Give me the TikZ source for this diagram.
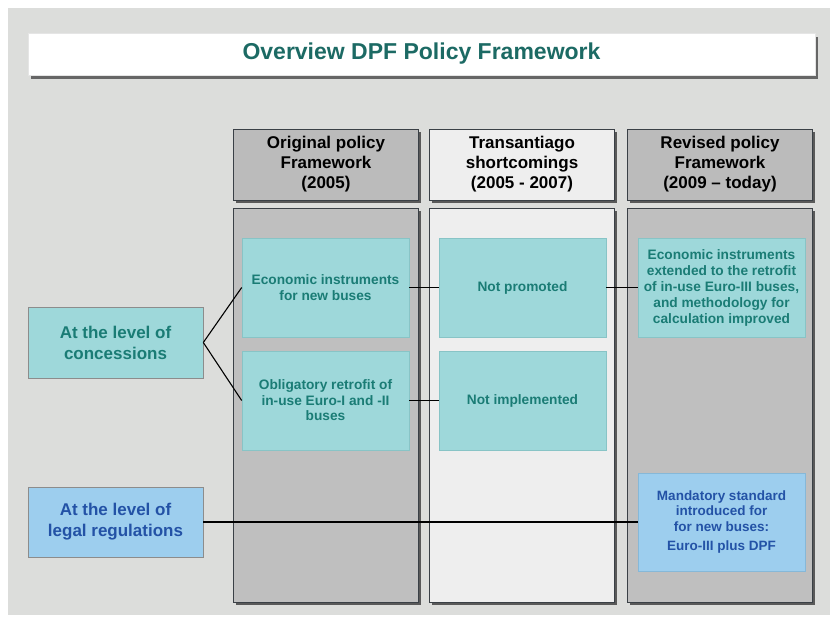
\documentclass[tikz,border=0pt]{standalone}
\usepackage{fontspec}
\setmainfont{Liberation Sans}
\usetikzlibrary{shadows}
\definecolor{bggray}{HTML}{DCDDDB}
\definecolor{colgray}{HTML}{BFBFBF}
\definecolor{hdrgray}{HTML}{BBBBBB}
\definecolor{collight}{HTML}{EEEEEE}
\definecolor{coledge}{HTML}{3A4046}
\definecolor{tealfill}{HTML}{9ED8DA}
\definecolor{tealedge}{HTML}{88C4C6}
\definecolor{tealtext}{HTML}{1A7C75}
\definecolor{titletext}{HTML}{1C6A64}
\definecolor{bluefill}{HTML}{9DCEEE}
\definecolor{blueedge}{HTML}{86B8D8}
\definecolor{bluetext}{HTML}{2352A6}
\tikzset{
  x=1pt, y=-1pt,
  shad/.style={general shadow={fill=black!65, shadow xshift=2.5pt, shadow yshift=-2.5pt}},
  titlebox/.style={general shadow={fill=black!60, shadow xshift=3pt, shadow yshift=-4pt},
     fill=white, draw=white!90!black, minimum width=787pt, minimum height=42pt,
     font=\bfseries\fontsize{23}{26}\selectfont, text=titletext},
  hdr/.style={shad, draw=coledge, line width=0.8pt, minimum width=185pt, minimum height=71pt,
     align=center, font=\bfseries\fontsize{17}{20}\selectfont, text=black},
  colbody/.style={shad, draw=coledge, line width=0.8pt, minimum width=185pt, minimum height=394pt},
  tealbox/.style={fill=tealfill, draw=tealedge, line width=0.6pt, align=center, text=tealtext,
     font=\bfseries\fontsize{13.7}{15.5}\selectfont, minimum width=167pt, minimum height=99pt, inner sep=2pt},
  leftteal/.style={fill=tealfill, draw=black!45, line width=0.6pt, align=center, text=tealtext,
     font=\bfseries\fontsize{17}{21}\selectfont, minimum width=175pt, minimum height=71pt},
  leftblue/.style={fill=bluefill, draw=black!45, line width=0.6pt, align=center, text=bluetext,
     font=\bfseries\fontsize{17}{21}\selectfont, minimum width=175pt, minimum height=70pt},
  bluebox/.style={fill=bluefill, draw=blueedge, line width=0.6pt, align=center, text=bluetext,
     font=\bfseries\fontsize{13.5}{15.5}\selectfont, minimum width=167pt, minimum height=98pt, inner sep=2pt},
  conn/.style={draw=black, line width=1.1pt}
}
\begin{document}
\begin{tikzpicture}
\fill[white] (0,0) rectangle (837,621);
\useasboundingbox (0,0) rectangle (837,621);
\fill[bggray] (8,8) rectangle (830,615);

\node[titlebox] (title) at (421.5,54) {Overview DPF Policy Framework};

\node[hdr, fill=hdrgray] (h1) at (326,164.5) {Original policy\\Framework\\(2005)};
\node[hdr, fill=collight] (h2) at (522,164.5) {Transantiago\\shortcomings\\(2005 - 2007)};
\node[hdr, fill=hdrgray] (h3) at (720,164.5) {Revised policy\\Framework\\(2009 -- today)};

\node[colbody, fill=colgray] (c1) at (326,405) {};
\node[colbody, fill=collight] (c2) at (522,405) {};
\node[colbody, fill=colgray] (c3) at (720,405) {};

\node[leftteal] (conc) at (115.5,342.5) {At the level of\\concessions};
\node[leftblue] (legal) at (115.5,522) {At the level of\\legal regulations};

\node[tealbox] (econ) at (325.5,287.5) {Economic instruments\\for new buses};
\node[tealbox] (oblig) at (325.5,400.5) {Obligatory retrofit of\\in-use Euro-I and -II\\buses};
\node[tealbox] (notprom) at (522.5,287.5) {Not promoted};
\node[tealbox] (notimpl) at (522.5,400.5) {Not implemented};
\node[tealbox, font=\bfseries\fontsize{13.7}{16}\selectfont] (revecon) at (721.5,287.5) {Economic instruments\\extended to the retrofit\\of in-use Euro-III buses,\\and methodology for\\calculation improved};
\node[bluebox] (mand) at (721.5,522) {Mandatory standard\\introduced for\\for new buses:\\[4pt]Euro-III plus DPF};

\draw[conn] (conc.east) -- (econ.west);
\draw[conn] (conc.east) -- (oblig.west);
\draw[conn] (econ.east) -- (notprom.west);
\draw[conn] (notprom.east) -- (revecon.west);
\draw[conn] (oblig.east) -- (notimpl.west);
\draw[conn] (legal.east) -- (mand.west);
\end{tikzpicture}
\end{document}
